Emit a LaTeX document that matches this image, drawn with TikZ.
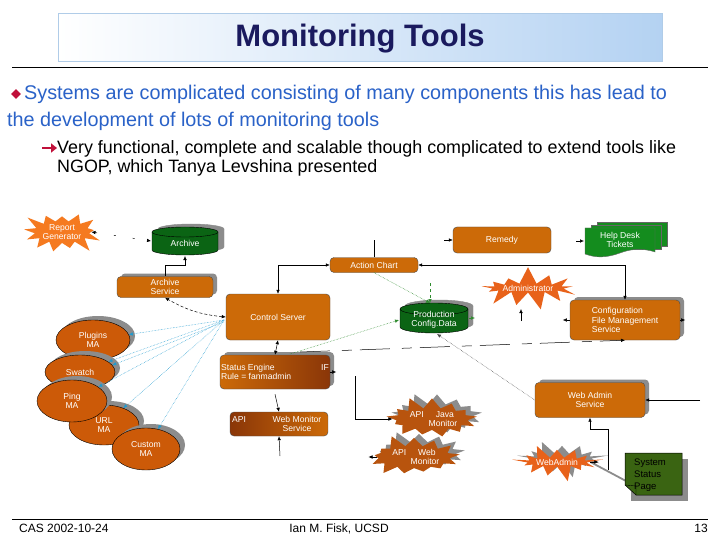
\documentclass[tikz,border=0pt]{standalone}
\usepackage{fontspec}
\setmainfont{Liberation Sans}
\usetikzlibrary{shapes.geometric,shapes.symbols,shadows,arrows.meta,calc}
\definecolor{navy}{HTML}{1A1A5E}
\definecolor{titleblue}{HTML}{B4D2F2}
\definecolor{titleedge}{HTML}{B0CCE8}
\definecolor{bulblue}{HTML}{2A62C8}
\definecolor{bulred}{HTML}{C0103A}
\definecolor{boxor}{HTML}{CC6A08}
\definecolor{brown}{HTML}{8A3608}
\definecolor{maor}{HTML}{CC5A08}
\definecolor{starA}{HTML}{F57A20}
\definecolor{starB}{HTML}{E8621A}
\definecolor{starC}{HTML}{B8540E}
\definecolor{cylgreen}{HTML}{0B6414}
\definecolor{helpgreen}{HTML}{148C1E}
\definecolor{pagegreen}{HTML}{3A6412}
\definecolor{shgray}{HTML}{8C8C8C}
\definecolor{bluedot}{HTML}{1E9BD0}
\definecolor{greendot}{HTML}{2E8B2E}
\newcommand\dfont{\fontsize{8.6}{9.4}\selectfont}
\newcommand\mycyl[7]{%
  \pgfmathsetmacro\myrx{(#2-#1)/2}%
  \path[fill=#6, draw=#7] (#1,#3) -- (#1,#4)
    arc[start angle=180,end angle=360,x radius=\myrx pt,y radius=#5pt] -- (#2,#3)
    arc[start angle=0,end angle=180,x radius=\myrx pt,y radius=#5pt] -- cycle;
  \draw[#7] (#1,#3) arc[start angle=180,end angle=360,x radius=\myrx pt,y radius=#5pt];}
\tikzset{
  dtext/.style={text=white, font=\dfont, align=center, inner sep=1pt},
  obox/.style={rounded corners=4pt, fill=boxor, draw=black!70, line width=0.4pt, dtext},
  shad/.style={drop shadow={shadow xshift=4pt, shadow yshift=3pt, fill=shgray, opacity=1}},
  maell/.style={ellipse, fill=maor, draw=black, line width=0.4pt, dtext, inner sep=0pt,
    drop shadow={shadow xshift=5pt, shadow yshift=4pt, fill=shgray, opacity=1}},
  burst/.style={starburst, starburst points=13, starburst point height=13pt, dtext, inner sep=0pt},
  conn/.style={line width=0.5pt, black},
  tip/.style={-{Latex[length=4pt,width=3.5pt]}},
  tips/.style={{Latex[length=4pt,width=3.5pt]}-{Latex[length=4pt,width=3.5pt]}},
  bdot/.style={bluedot, line width=0.5pt, densely dotted, -{Latex[length=4pt,width=3.5pt]}},
  gdot/.style={greendot, line width=0.5pt, densely dotted, -{Latex[length=4pt,width=3.5pt]}},
}
\begin{document}
\begin{tikzpicture}[x=1pt,y=-1pt]
\useasboundingbox (0,0) rectangle (720,540);
\fill[white] (0,0) rectangle (720,540);

% ---------- title ----------
\node[draw=titleedge, line width=1pt, left color=white, right color=titleblue,
      minimum width=604pt, minimum height=48pt, inner sep=0] (titlebox) at (360,38) {};
\node[font=\fontsize{31}{33}\selectfont\bfseries, text=navy] (title) at (360,39) {Monitoring Tools};
\draw[line width=0.9pt] (12,67) -- (708,67);

% ---------- bullets ----------
\node[diamond, fill=bulred, minimum size=10pt, inner sep=0] (dia) at (16,94) {};
\node[anchor=base west, inner sep=0, font=\fontsize{19.8}{22}\selectfont, text=bulblue] (b1) at (24,100)
  {Systems are complicated consisting of many components this has lead to};
\node[anchor=base west, inner sep=0, font=\fontsize{19.8}{22}\selectfont, text=bulblue] (b2) at (7,127)
  {the development of lots of monitoring tools};
\coordinate (arrA) at (42,148);
\coordinate (arrB) at (57,148);
\draw[bulred, line width=2pt, -{Triangle[length=6pt,width=9pt]}] (arrA) -- (arrB);
\node[anchor=base west, inner sep=0, font=\fontsize{17.9}{20}\selectfont] (s1) at (57,154)
  {Very functional, complete and scalable though complicated to extend tools like};
\node[anchor=base west, inner sep=0, font=\fontsize{17.9}{20}\selectfont] (s2) at (57,173)
  {NGOP, which Tanya Levshina presented};

% ---------- footer ----------
\draw[line width=0.9pt] (12,519) -- (708,519);
\node[anchor=base west, inner sep=0, font=\fontsize{12}{14}\selectfont] (f1) at (19,532) {CAS 2002-10-24};
\node[anchor=base, inner sep=0, font=\fontsize{12}{14}\selectfont] (f2) at (339,532) {Ian M. Fisk, UCSD};
\node[anchor=base east, inner sep=0, font=\fontsize{12}{14}\selectfont] (f3) at (708,532) {13};

% ---------- diagram nodes ----------
\node[burst, random starburst=3, starburst point height=15pt, fill=starA, minimum width=40pt, minimum height=34pt] (rg) at (62,232) {Report\\Generator};

\mycyl{158}{224}{229}{247}{5}{shgray}{shgray}
\mycyl{152}{218}{232}{250}{5}{cylgreen}{black}
\node[dtext] (arch) at (185,243) {Archive};
\coordinate (archW) at (151,241);
\coordinate (archS) at (185,256);

\node[obox, shad, minimum width=96pt, minimum height=21pt] (archsvc) at (165,287) {Archive\\Service};
\node[obox, minimum width=98pt, minimum height=26pt] (remedy) at (502,240) {Remedy};

% help desk tickets
\fill[helpgreen, draw=black!60] (597,222) rectangle (667,246);
\fill[helpgreen, draw=black!60] (591,225) rectangle (661,249);
\path[fill=helpgreen, draw=black!60] (585,228) -- (655,228) -- (655,252)
   .. controls (640,247) and (628,250) .. (620,253) .. controls (606,258) and (596,258) .. (585,254) -- cycle;
\node[dtext] (help) at (620,240) {Help Desk\\Tickets};
\coordinate (helpW) at (584,241);

\node[obox, minimum width=88pt, minimum height=15pt] (action) at (374,265) {Action Chart};
\node[burst, random starburst=7, starburst point height=18pt, fill=starB, minimum width=40pt, minimum height=30pt] (admin) at (528,288) {Administrator};

\node[obox, minimum width=104pt, minimum height=46pt] (ctrl) at (278,317) {Control Server};

\mycyl{405}{473}{306}{324}{6}{shgray}{shgray}
\mycyl{400}{468}{309}{327}{6}{cylgreen}{black}
\node[dtext] (prod) at (434,320) {Production\\Config.Data};
\coordinate (prodN) at (430,303);
\coordinate (prodW) at (399,320);
\coordinate (prodS) at (437,334);
\coordinate (prodE) at (469,318);

\node[obox, shad, minimum width=110pt, minimum height=40pt, align=left] (cfg) at (625,320)
  {Configuration\\File Management\\Service};

% MA ellipses
\node[maell, minimum width=74pt, minimum height=40pt] (plugins) at (93,340) {Plugins\\MA};
\node[maell, minimum width=70pt, minimum height=34pt] (swatch) at (80,372) {Swatch};
\node[maell, minimum width=70pt, minimum height=40pt] (url) at (104,425) {URL\\MA};
\node[maell, minimum width=70pt, minimum height=42pt] (ping) at (72,401) {Ping\\MA};
\node[maell, minimum width=68pt, minimum height=42pt] (custom) at (146,449) {Custom\\MA};

\node[rounded corners=4pt, shad, left color=boxor, right color=brown, draw=black!70, line width=0.4pt,
      minimum width=110pt, minimum height=34pt] (status) at (275,372) {};
\node[dtext, align=left, anchor=west] (stxt) at (220,372) {Status Engine\\Rule = fanmadmin};
\node[dtext, anchor=east] (sif) at (330,368) {IF};

\node[rounded corners=4pt, left color=brown, right color=boxor, draw=black!70, line width=0.4pt,
      minimum width=98pt, minimum height=24pt] (wms) at (279,424) {};
\node[dtext, anchor=west] (wapi) at (231,420) {API};
\node[dtext] (wtxt) at (297,424) {Web Monitor\\Service};

\node[burst, random starburst=11, starburst point height=13pt, fill=starC,
      drop shadow={shadow xshift=5pt, shadow yshift=4pt, fill=shgray, opacity=1},
      minimum width=78pt, minimum height=20pt] (java) at (432,419) {API\hspace{12pt}Java\\\hspace{22pt}Monitor};
\node[burst, random starburst=5, starburst point height=13pt, fill=starC,
      drop shadow={shadow xshift=5pt, shadow yshift=4pt, fill=shgray, opacity=1},
      minimum width=78pt, minimum height=20pt] (webmon) at (414,457) {API\hspace{12pt}Web\\\hspace{22pt}Monitor};

\node[obox, shad, minimum width=110pt, minimum height=35pt] (was) at (590,400) {Web Admin\\Service};

\node[burst, random starburst=9, starburst point height=17pt, fill=starB,
      drop shadow={shadow xshift=5pt, shadow yshift=4pt, fill=shgray, opacity=1},
      minimum width=46pt, minimum height=32pt] (webadmin) at (557,462) {WebAdmin};

% system status page
\draw[shgray, line width=1.8pt] (webadmin.east) -- (626,481);
\fill[shgray] (631,459) rectangle (688,501);
\path[fill=pagegreen, draw=black, line width=0.5pt] (625,453) -- (682,453) -- (682,495) -- (636,495) -- (625,485) -- cycle;
\draw[black, line width=0.4pt] (625,485) -- (636,486) -- (636,495);
\node[anchor=north west, align=left, inner sep=0, font=\fontsize{9.5}{12}\selectfont] (ssp) at (634,459) {System\\Status\\Page};
\coordinate (sspW) at (625,475);

% ---------- connectors ----------
\draw[conn, tips, dash pattern=on 2pt off 17pt] (rg.east) -- (archW);
\draw[conn, tip] (archsvc.north) -- ++(0,-11) -| (archS);
\draw[conn, tips, densely dashed] (ctrl.west) to[bend left=12] (archsvc.south);
\draw[conn, tips] (action.west) -| (ctrl.north);
\draw[conn] (action.north) -- ++(0,-17);
\coordinate (remIn) at (444,240);
\draw[conn, tip] (remIn) -- (remedy.west);
\coordinate (helpIn) at (576,241);
\draw[conn, tip] (helpIn) -- (helpW);
\draw[conn, tips] (action.east) -| (cfg.north);
\coordinate (admIn) at (521,321);
\draw[conn, tip] (admIn) -- ++(0,-12);

\draw[gdot] (action.south) -- (prodN);
\coordinate (gIn) at (430,283);
\draw[gdot, dashed] (gIn) -- (prodN);
\coordinate (stNE) at (290,354);
\draw[gdot] (stNE) -- (prodW);
\draw[greendot, line width=0.5pt, -{Latex[length=4pt,width=3.5pt]}] (prodE) -- ++(6,0);
\draw[black!70, line width=0.5pt, densely dotted, {Latex[length=4pt,width=3.5pt]}-] (prodS) -- (was.west);

\coordinate (dStart) at (300,352);
\draw[conn, tip, dash pattern=on 30pt off 12pt on 10pt off 8pt] (dStart) -- (cfg.south);
\draw[conn, tip] (cfg.west) -- ++(-7,0);
\draw[conn, tip] (cfg.east) -- ++(5,0);

\coordinate (cW) at (224,320);
\draw[bdot] (cW) -- (plugins);
\draw[bdot] (cW) -- (swatch);
\draw[bdot] ($(cW)+(0,2)$) -- (swatch.12);
\draw[bdot] (cW) -- (ping);
\draw[bdot] (cW) -- (url);
\draw[bdot] (cW) -- (custom);

\draw[conn, tips] (ctrl.south) -- (status.north);
\draw[conn, tip] (status.east) -- ++(6,0);
\draw[conn, tip] (status.south) ++(0,5) -- (wms.north);
\coordinate (wmsIn) at (280,456);
\draw[conn, tip] (wmsIn) -- (wms.south);
\coordinate (javaIn) at (355,376);
\draw[conn, tip] (javaIn) |- (java.west);
\draw[conn, tip] (webmon.west) -- ++(-8,0);

\coordinate (wasIn) at (700,400);
\draw[conn, tip] (wasIn) -- (was.east);
\coordinate (wasIn2) at (608,470);
\draw[conn, tip] (wasIn2) |- ($(was.south)+(0,12)$) -- (was.south);
\draw[conn, tip] (webadmin.east) -- ++(8,0);
\end{tikzpicture}
\end{document}
